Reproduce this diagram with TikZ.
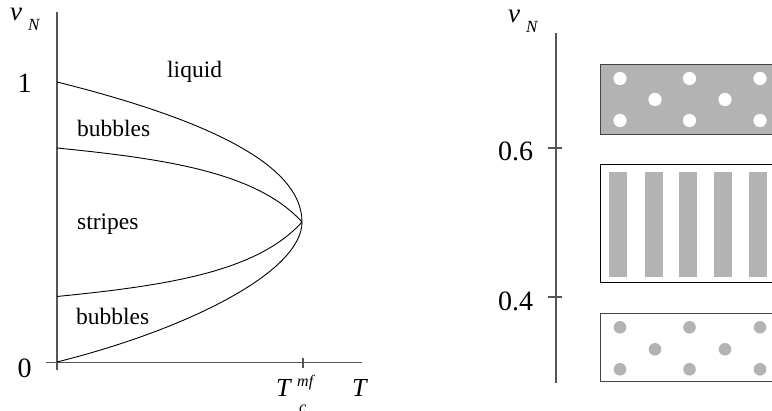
\documentclass[tikz,border=0pt]{standalone}
\usepackage{fontspec}
\setmainfont{Liberation Serif}
\definecolor{axisgray}{HTML}{555555}
\definecolor{fillgray}{HTML}{B3B3B3}
\definecolor{boxedge}{HTML}{444444}
\begin{document}
\begin{tikzpicture}[x=1pt,y=-1pt,
  axis/.style={draw=axisgray, line width=1.2pt},
  curve/.style={draw=black, line width=0.9pt},
  lbl/.style={font=\fontsize{23.5}{28}\selectfont, inner sep=0pt, anchor=base west},
  num/.style={font=\fontsize{28}{32}\selectfont, inner sep=0pt, anchor=base},
  gr/.style={font=\itshape\fontsize{27}{30}\selectfont, inner sep=0pt, anchor=base west},
  sub/.style={font=\itshape\fontsize{17}{19}\selectfont, inner sep=0pt, anchor=base west},
  tlbl/.style={font=\itshape\fontsize{26}{28}\selectfont, inner sep=0pt, anchor=base west},
  sup/.style={font=\itshape\fontsize{16}{18}\selectfont, inner sep=0pt, anchor=base west},
  panel/.style={draw=boxedge, line width=1pt},
  whitedot/.style={fill=white, draw=none},
  graydot/.style={fill=fillgray, draw=none},
  stripe/.style={fill=fillgray, draw=none}]
\useasboundingbox (0,0) rectangle (772,411);
\clip (0,0) rectangle (772,411);

% ---------- left panel: axes ----------
\coordinate (ltop) at (57,12);
\coordinate (lbot) at (57,370);
\coordinate (hl) at (46,362.5);
\coordinate (hr) at (362,362.5);
\coordinate (tct) at (303,358);
\coordinate (tcb) at (303,368);
\draw[axis] (ltop) -- (lbot);
\draw[axis] (hl) -- (hr);
\draw[axis] (tct) -- (tcb);

% ---------- left panel: phase boundaries ----------
\coordinate (apex) at (302,222);
\coordinate (o1) at (57,82);
\coordinate (i1) at (57,148);
\coordinate (i0) at (57,296.5);
\coordinate (o0) at (57,362);
\draw[curve] (o1) .. controls (187,114.5) and (302,159) .. (apex);
\draw[curve] (o0) .. controls (187,329.5) and (302,272) .. (apex);
\draw[curve] (i1) .. controls (167,159) and (257,172.5) .. (apex);
\draw[curve] (i0) .. controls (167,285.5) and (257,272) .. (apex);

% ---------- left panel: labels ----------
\node[gr] (nuL) at (10,21) {ν};
\node[sub] (NL) at (28,31) {N};
\node[num] (one) at (24.5,93) {1};
\node[num] (zero) at (24.5,378) {0};
\node[lbl] (liq) at (167,78) {liquid};
\node[lbl] (bub1) at (77,137) {bubbles};
\node[lbl] (str) at (77,230) {stripes};
\node[lbl] (bub2) at (76,325) {bubbles};
\node[tlbl] (Tc) at (276,397) {T};
\node[sup] (mf) at (297,387) {mf};
\node[sup] (csub) at (299,413) {c};
\node[tlbl] (T) at (352,397) {T};

% ---------- right panel: axis ----------
\coordinate (rtop) at (556,33);
\coordinate (rbot) at (556,383);
\coordinate (t6l) at (548,148);
\coordinate (t6r) at (562,148);
\coordinate (t4l) at (548,297);
\coordinate (t4r) at (562,297);
\draw[axis] (rtop) -- (rbot);
\draw[axis] (t6l) -- (t6r);
\draw[axis] (t4l) -- (t4r);
\node[gr] (nuR) at (508,23) {ν};
\node[sub] (NR) at (526,33) {N};
\node[num] (six) at (515.5,161) {0.6};
\node[num] (four) at (515.5,311) {0.4};

% ---------- top box: bubbles of liquid ----------
\filldraw[panel, fill=fillgray] (600.7,65) rectangle (790,135);
\foreach \x in {620,689.5,760} {
  \fill[whitedot] (\x,78.5) circle (6.6);
  \fill[whitedot] (\x,120.5) circle (6.6);
}
\foreach \x in {655,725,795} {
  \fill[whitedot] (\x,99.5) circle (6.6);
}

% ---------- middle box: stripes ----------
\draw[draw=black, line width=1pt] (600.7,165) rectangle (790,282.7);
\foreach \x in {609.3,645,679,714.3,749.3,784.3} {
  \fill[stripe] (\x,172.3) rectangle ++(17.7,104.4);
}

% ---------- bottom box: bubbles ----------
\filldraw[panel, fill=white] (600.7,314) rectangle (790,382);
\foreach \x in {620,689.5,760} {
  \fill[graydot] (\x,327.3) circle (6.3);
  \fill[graydot] (\x,369.3) circle (6.3);
}
\foreach \x in {655,725,795} {
  \fill[graydot] (\x,349.3) circle (6.3);
}
\end{tikzpicture}
\end{document}
